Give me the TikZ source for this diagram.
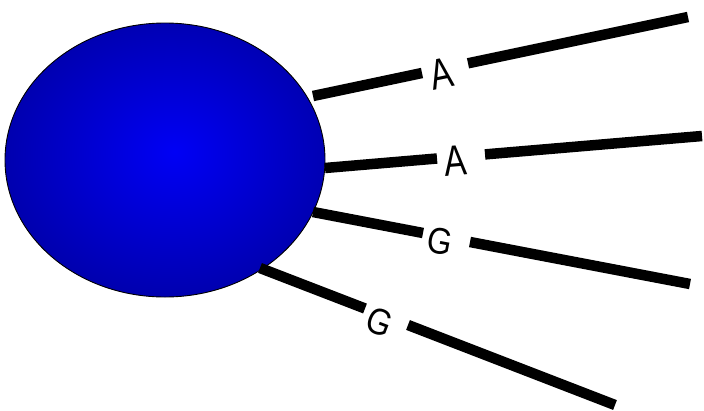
\documentclass[tikz,border=0pt]{standalone}
\usepackage{fontspec}
\setmainfont{Liberation Sans}
\usetikzlibrary{shapes.geometric}
\definecolor{ballin}{RGB}{0,0,245}
\definecolor{ballout}{RGB}{0,0,110}
\pgfdeclareradialshading{ballshade}{\pgfpoint{1.5bp}{1.5bp}}{color(0bp)=(ballin); color(50bp)=(ballout); color(60bp)=(ballout)}
\tikzset{
  bar/.style={line width=10.5pt, line cap=butt, black},
  lbla/.style={inner sep=0pt, font=\fontsize{43}{43}\selectfont},
  lblg/.style={inner sep=0pt, font=\fontsize{37}{37}\selectfont},
}
\newcommand{\sqa}[1]{\scalebox{0.78}[1]{#1}}
\newcommand{\sqg}[1]{\scalebox{0.86}[1]{#1}}
\begin{document}
\begin{tikzpicture}[x=1pt,y=-1pt]
\useasboundingbox (0,0) rectangle (704,410);
\node[draw=black, line width=0.9pt, ellipse, minimum width=320pt, minimum height=274pt, inner sep=0pt, outer sep=0pt, shading=ballshade] (ball) at (165,160) {};
\coordinate (s1) at (313,96);  \coordinate (g1a) at (422,73);  \coordinate (g1b) at (468,63.3); \coordinate (e1) at (688,17);
\coordinate (s2) at (325,168); \coordinate (g2a) at (437,158.5); \coordinate (g2b) at (485,154.4); \coordinate (e2) at (702,136);
\coordinate (s3) at (313,212); \coordinate (g3a) at (423,233); \coordinate (g3b) at (470,242); \coordinate (e3) at (690,284);
\coordinate (s4) at (260,268); \coordinate (g4a) at (365,308.5); \coordinate (g4b) at (408,325); \coordinate (e4) at (615,405);
\draw[bar] (s1) -- (g1a); \draw[bar] (g1b) -- (e1);
\draw[bar] (s2) -- (g2a); \draw[bar] (g2b) -- (e2);
\draw[bar] (s3) -- (g3a); \draw[bar] (g3b) -- (e3);
\draw[bar] (s4) -- (g4a); \draw[bar] (g4b) -- (e4);
\node[lbla, rotate=11.9] (l1) at (441,74) {\sqa{A}};
\node[lbla, rotate=4.9] (l2) at (455,161) {\sqa{A}};
\node[lblg, rotate=-10.8] (l3) at (440,241.5) {\sqg{G}};
\node[lblg, rotate=-21] (l4) at (380,322) {\sqg{G}};
\end{tikzpicture}
\end{document}
